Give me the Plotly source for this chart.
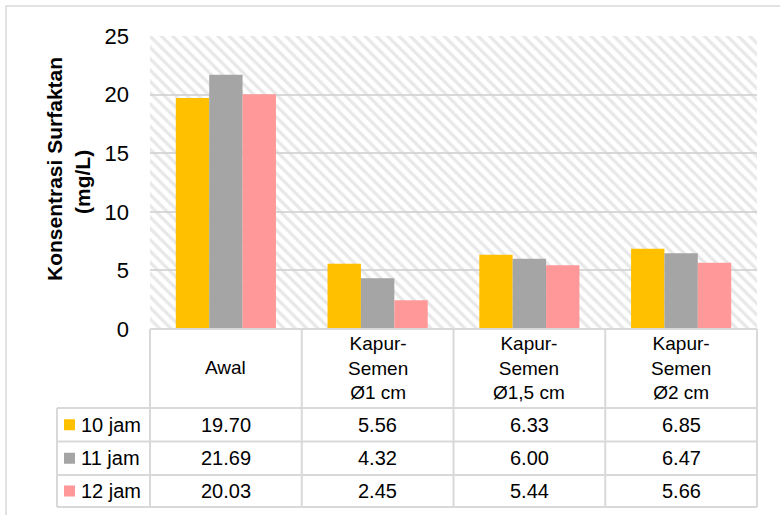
import plotly.graph_objects as go

# ---- data ----
categories = ["Awal", "Kapur-<br>Semen<br>Ø1 cm", "Kapur-<br>Semen<br>Ø1,5 cm", "Kapur-<br>Semen<br>Ø2 cm"]
series_names = ["10 jam", "11 jam", "12 jam"]
values_10 = [19.70, 5.56, 6.33, 6.85]
values_11 = [21.69, 4.32, 6.00, 6.47]
values_12 = [20.03, 2.45, 5.44, 5.66]
series_values = [values_10, values_11, values_12]
colors = ["#FFC000", "#A5A5A5", "#FF9999"]
y_ticks = [0, 5, 10, 15, 20, 25]
y_title_1 = "Konsentrasi Surfaktan"
y_title_2 = "(mg/L)"

# ---- geometry (pixels) ----
W, H = 780, 515
L, R, T, B = 150, 757, 36, 329
FONT = "Arial, Liberation Sans, sans-serif"
LINE = "#d9d9d9"


def px(x):
    return (x - L) / (R - L)


def py(y):
    return (B - y) / (B - T)


fig = go.Figure()

# hatched plot-area fill on the base axes, under the bars
fig.add_trace(go.Bar(
    x=[0.5], y=[y_ticks[-1]], width=[1],
    xaxis="x", yaxis="y",
    marker=dict(color="rgba(0,0,0,0)", line=dict(width=0),
                pattern=dict(shape="\\", fgcolor="#d2d2d2", bgcolor="rgba(0,0,0,0)",
                             size=8, solidity=0.42)),
    hoverinfo="skip", showlegend=False,
))

# grouped data bars on the overlaid axes
for name, vals, col in zip(series_names, series_values, colors):
    fig.add_trace(go.Bar(
        x=categories, y=vals, name=name,
        xaxis="x2", yaxis="y2",
        marker=dict(color=col, line=dict(width=0)),
        showlegend=False,
    ))

shapes = []
annotations = []


def hline(x0, x1, y):
    shapes.append(dict(type="line", xref="paper", yref="paper",
                       x0=px(x0), x1=px(x1), y0=py(y), y1=py(y),
                       line=dict(color=LINE, width=2)))


def vline(x, y0, y1):
    shapes.append(dict(type="line", xref="paper", yref="paper",
                       x0=px(x), x1=px(x), y0=py(y0), y1=py(y1),
                       line=dict(color=LINE, width=2)))


# outer chart frame
shapes.append(dict(type="rect", xref="paper", yref="paper",
                   x0=px(6), x1=px(800), y0=py(6), y1=py(540),
                   line=dict(color=LINE, width=1.5), fillcolor="rgba(0,0,0,0)"))

# data table grid
head_bottom = 408
row_edges = [408, 441.5, 475, 507]
legend_left = 57
n = len(categories)
col_w = (R - L) / n
hline(L, R, B)
for y in row_edges:
    hline(legend_left, R, y)
for i in range(n + 1):
    vline(L + i * col_w, B, row_edges[-1])
vline(legend_left, row_edges[0], row_edges[-1])

# column headers
for i, cat in enumerate(categories):
    annotations.append(dict(xref="paper", yref="paper",
                            x=px(L + (i + 0.5) * col_w), y=py((B + head_bottom) / 2 - 1),
                            text=cat, showarrow=False, xanchor="center", yanchor="middle",
                            font=dict(family=FONT, size=19, color="black")))

# table rows: legend key + values
for r, (name, vals, col) in enumerate(zip(series_names, series_values, colors)):
    yc = (row_edges[r] + row_edges[r + 1]) / 2
    shapes.append(dict(type="rect", xref="paper", yref="paper",
                       x0=px(64), x1=px(75), y0=py(yc - 5.5), y1=py(yc + 5.5),
                       line=dict(width=0), fillcolor=col))
    annotations.append(dict(xref="paper", yref="paper", x=px(79), y=py(yc),
                            text=name, showarrow=False, xanchor="left", yanchor="middle",
                            font=dict(family=FONT, size=20, color="black")))
    for i, v in enumerate(vals):
        annotations.append(dict(xref="paper", yref="paper",
                                x=px(L + (i + 0.5) * col_w), y=py(yc),
                                text=f"{v:.2f}", showarrow=False,
                                xanchor="center", yanchor="middle",
                                font=dict(family=FONT, size=20, color="black")))

# y-axis title (two lines)
annotations.append(dict(xref="paper", yref="paper", x=px(54), y=py(169),
                        text=f"<b>{y_title_1}</b>", textangle=-90, showarrow=False,
                        xanchor="center", yanchor="middle",
                        font=dict(family=FONT, size=21, color="black")))
annotations.append(dict(xref="paper", yref="paper", x=px(82), y=py(182),
                        text=f"<b>{y_title_2}</b>", textangle=-90, showarrow=False,
                        xanchor="center", yanchor="middle",
                        font=dict(family=FONT, size=21, color="black")))

fig.update_layout(
    width=W, height=H,
    margin=dict(l=L, r=W - R, t=T, b=H - B),
    paper_bgcolor="white", plot_bgcolor="white",
    barmode="group", bargap=0.34, bargroupgap=0,
    showlegend=False,
    xaxis=dict(range=[0, 1], visible=False, fixedrange=True),
    yaxis=dict(range=[0, 25], tickvals=y_ticks, showgrid=True, gridcolor=LINE,
               gridwidth=2, zeroline=False, showline=False, ticks="",
               ticklabelstandoff=20,
               tickfont=dict(family=FONT, size=22, color="black")),
    xaxis2=dict(overlaying="x", anchor="y2", range=[-0.5, n - 0.5],
                showticklabels=False, showgrid=False, zeroline=False, showline=False,
                categoryorder="array", categoryarray=categories),
    yaxis2=dict(overlaying="y", anchor="x2", range=[0, 25], showgrid=False,
                showticklabels=False, zeroline=False, showline=False),
    shapes=shapes,
    annotations=annotations,
)

fig.write_html("out.html")
